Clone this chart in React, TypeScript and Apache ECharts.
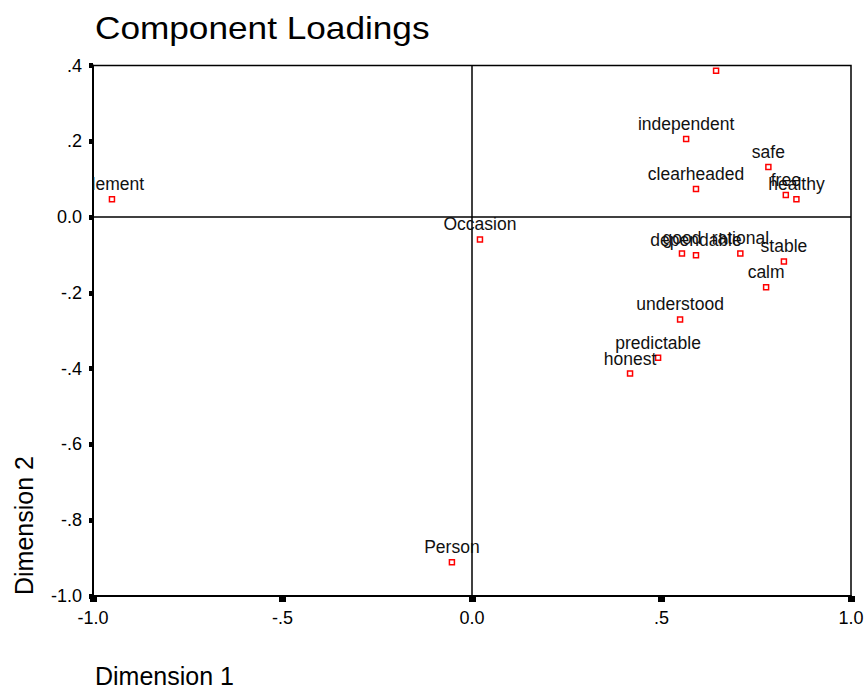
import React, { useEffect, useRef } from "react";
import * as echarts from "echarts";

const FONT = "'Liberation Sans', Arial, sans-serif";

const names = [
  "", "independent", "safe", "clearheaded", "free", "healthy",
  "good", "dependable", "rational", "stable", "calm",
  "understood", "predictable", "honest", "Element", "Occasion", "Person",
];
const dim1 = [
  0.644, 0.565, 0.782, 0.591, 0.828, 0.856,
  0.554, 0.591, 0.708, 0.823, 0.776,
  0.549, 0.491, 0.417, -0.95, 0.021, -0.053,
];
const dim2 = [
  0.386, 0.206, 0.132, 0.074, 0.058, 0.047,
  -0.096, -0.101, -0.096, -0.117, -0.185,
  -0.27, -0.371, -0.413, 0.047, -0.059, -0.911,
];

const xMin = -1, xMax = 1, xStep = 0.5;
const yMin = -1, yMax = 0.4, yStep = 0.2;

const fmt = (v: number) => {
  const r = Math.round(v * 10) / 10;
  if (r === 0) return "0.0";
  const s = Math.abs(r).toFixed(1).replace(/^0/, "");
  return (r < 0 ? "-" : "") + s;
};

export default function App() {
  const ref = useRef<HTMLDivElement>(null);
  useEffect(() => {
    if (!ref.current) return;
    const chart = echarts.init(ref.current, undefined, { renderer: "svg" });
    const pts = dim1.map((x, i) => [x, dim2[i]]);
    chart.setOption({
      animation: false,
      backgroundColor: "#fff",
      grid: {
        left: 93, right: 17, top: 65.5, bottom: 92,
        show: true, borderColor: "#000", borderWidth: 1.5,
      },
      xAxis: {
        type: "value", min: xMin, max: xMax, interval: xStep,
        splitLine: { show: false },
        axisLine: { show: true, onZero: false, lineStyle: { color: "#000", width: 2 } },
        axisTick: { show: true, length: 6, lineStyle: { color: "#000", width: 7 } },
        axisLabel: { margin: 13, fontSize: 18, color: "#000", fontFamily: FONT, formatter: fmt },
      },
      yAxis: {
        type: "value", min: yMin, max: yMax, interval: yStep,
        splitLine: { show: false },
        axisLine: { show: true, onZero: false, lineStyle: { color: "#000", width: 2 } },
        axisTick: { show: true, length: 4, lineStyle: { color: "#000", width: 5 } },
        axisLabel: { margin: 11, fontSize: 18, color: "#000", fontFamily: FONT, formatter: fmt },
      },
      graphic: [
        {
          type: "text", x: 95, y: 28, scaleX: 1.1,
          style: { text: "Component Loadings", fontSize: 32, fontFamily: FONT, fill: "#000", align: "left", verticalAlign: "middle" },
        },
        {
          type: "text", x: 95, y: 676,
          style: { text: "Dimension 1", fontSize: 25, fontFamily: FONT, fill: "#000", align: "left", verticalAlign: "middle" },
        },
        {
          type: "text", x: 24, y: 595, rotation: Math.PI / 2,
          style: { text: "Dimension 2", fontSize: 25, fontFamily: FONT, fill: "#000", align: "left", verticalAlign: "middle" },
        },
      ],
      series: [
        {
          type: "line", silent: true, symbol: "none", z: 1,
          data: [[0, yMin], [0, yMax]],
          lineStyle: { color: "#000", width: 1.5 },
        },
        {
          type: "line", silent: true, symbol: "none", z: 1,
          data: [[xMin, 0], [xMax, 0]],
          lineStyle: { color: "#000", width: 1.5 },
        },
        {
          type: "custom", z: 5, clip: true,
          data: pts,
          renderItem: (params: any, api: any) => {
            const p = api.coord([api.value(0), api.value(1)]);
            const name = names[params.dataIndex];
            return {
              type: "group",
              children: [
                {
                  type: "rect",
                  shape: { x: p[0] - 2.5, y: p[1] - 2.5, width: 5, height: 5 },
                  style: { fill: "#fff", stroke: "#ff0000", lineWidth: 1.5 },
                },
                {
                  type: "text", x: p[0], y: p[1] - 15,
                  style: { text: name, fontSize: 17.5, fontFamily: FONT, fill: "#111", align: "center", verticalAlign: "middle" },
                },
              ],
            };
          },
        },
      ],
    });
    return () => chart.dispose();
  }, []);
  return <div ref={ref} style={{ position: "absolute", left: 0, top: 0, width: 868, height: 688 }} />;
}
